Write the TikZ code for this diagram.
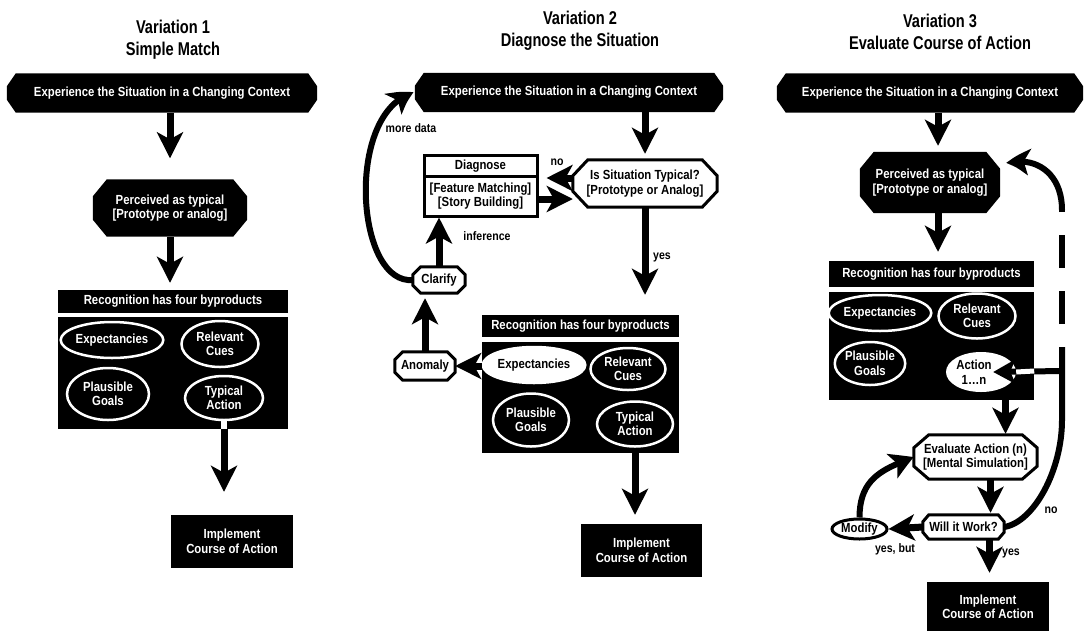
\documentclass[tikz,border=0pt]{standalone}
\usepackage{fontspec}
\setmainfont{Liberation Sans}[FakeStretch=0.86]
\newfontfamily\titlefont{Liberation Sans}[FakeStretch=0.79]
\usetikzlibrary{shapes.geometric,arrows.meta,bending,calc,backgrounds}

% octagon behind a node: style, node, chamfer x, chamfer y
\newcommand\octshape[4]{%
  \path[#1] ($(#2.north west)+(#3,0)$) -- ($(#2.north east)+(-#3,0)$)
    -- ($(#2.north east)+(0,#4)$) -- ($(#2.south east)+(0,-#4)$)
    -- ($(#2.south east)+(-#3,0)$) -- ($(#2.south west)+(#3,0)$)
    -- ($(#2.south west)+(0,-#4)$) -- ($(#2.north west)+(0,#4)$) -- cycle;}

\tikzset{
  blackbox/.style={rectangle,fill=black,text=white,inner sep=0pt,align=center},
  octbox/.style={rectangle,text=white,inner sep=0pt,align=center},
  whiteoct/.style={rectangle,inner sep=0pt,align=center},
  byprod/.style={ellipse,draw=white,line width=2.5pt,text=white,inner sep=0pt,align=center},
  flow/.style={line width=7pt,-{Stealth[length=26pt,width=26pt,inset=7pt]}},
  loopflow/.style={line width=6pt,-{Stealth[length=24pt,width=26pt,inset=6pt,bend]}},
  lbl/.style={font=\fontsize{12.3}{14}\selectfont\bfseries,inner sep=0pt},
  vtitle/.style={font=\fontsize{18.5}{22}\selectfont\titlefont\bfseries,align=center,inner sep=0pt}
}

\begin{document}
\begin{tikzpicture}[x=1pt,y=-1pt,font=\fontsize{13.2}{14.5}\selectfont\bfseries]
  \useasboundingbox (0,0) rectangle (1084,630);

  % Variation 1
  \node[vtitle] (t1) at (173,40) {Variation 1\\Simple Match};
  \node[octbox,minimum width=310pt,minimum height=39pt] (exp1) at (162,93)
    {Experience the Situation in a Changing Context};
  \node[octbox,minimum width=154pt,minimum height=57pt] (perc1) at (170,208)
    {Perceived as typical\\{[}Prototype or analog{]}};
  \node[blackbox,minimum width=230pt,minimum height=23pt] (hdr1) at (173,301.5)
    {Recognition has four byproducts};
  \node[blackbox,minimum width=230pt,minimum height=112pt] (bp1) at (173,373) {};
  \node[byprod,minimum width=101pt,minimum height=36pt] (ex1) at (112,340) {Expectancies};
  \node[byprod,minimum width=77pt,minimum height=46pt] (rc1) at (220,344) {Relevant\\Cues};
  \node[byprod,minimum width=82pt,minimum height=52pt] (pg1) at (108,394) {Plausible\\Goals};
  \node[byprod,minimum width=78pt,minimum height=44pt] (ta1) at (224,398) {Typical\\Action};
  \node[blackbox,minimum width=122pt,minimum height=53pt] (imp1) at (232,541.5)
    {Implement\\Course of Action};

  \draw[flow,shorten >=21pt] (perc1.north |- exp1.south) -- (perc1.north);
  \draw[flow,shorten >=7pt] (perc1.south) -- (perc1.south |- hdr1.north);
  \draw[flow,shorten >=23pt] (ta1.south) -- (ta1.south |- imp1.north);
  \draw[white,line width=6pt] (ta1.south) -- (ta1.south |- bp1.south);

  % Variation 2
  \node[vtitle] (t2) at (580,30.5) {Variation 2\\Diagnose the Situation};
  \node[octbox,minimum width=308pt,minimum height=39pt] (exp2) at (569,92.5)
    {Experience the Situation in a Changing Context};
  \node[whiteoct,minimum width=144pt,minimum height=47pt] (typ2) at (645,183.5)
    {Is Situation Typical?\\{[}Prototype or Analog{]}};
  \node[rectangle,draw,line width=3pt,fill=white,minimum width=113pt,minimum height=22pt,inner sep=0pt]
    (diag) at (480.5,166) {Diagnose};
  \node[rectangle,draw,line width=3pt,fill=white,minimum width=113pt,minimum height=40pt,
    inner sep=0pt,align=center] (diagb) at (480.5,196)
    {{[}Feature Matching{]}\\{[}Story Building{]}};
  \node[whiteoct,minimum width=52pt,minimum height=26pt] (clar) at (439,280) {Clarify};
  \node[whiteoct,minimum width=60pt,minimum height=28pt] (anom) at (425,366) {Anomaly};
  \node[blackbox,minimum width=197pt,minimum height=22pt] (hdr2) at (580.5,326)
    {Recognition has four byproducts};
  \node[blackbox,minimum width=197pt,minimum height=111pt] (bp2) at (580.5,397.5) {};
  \node[byprod,fill=white,text=black,minimum width=94pt,minimum height=36pt] (ex2) at (534,365) {Expectancies};
  \node[byprod,minimum width=75pt,minimum height=42pt] (rc2) at (628,369) {Relevant\\Cues};
  \node[byprod,minimum width=76pt,minimum height=53pt] (pg2) at (531,420) {Plausible\\Goals};
  \node[byprod,minimum width=76pt,minimum height=45pt] (ta2) at (635,424) {Typical\\Action};
  \node[blackbox,minimum width=121pt,minimum height=53pt] (imp2) at (641.5,550.5)
    {Implement\\Course of Action};

  \draw[flow,shorten >=6pt] (typ2.north |- exp2.south) -- (typ2.north);
  \draw[flow,shorten >=8pt] ([yshift=5.5pt]typ2.west) -- ([yshift=5.5pt]typ2.west -| diagb.east);
  \draw[flow] ([yshift=-3pt]diagb.east) -- ([yshift=-3pt]diagb.east -| typ2.west);
  \draw[flow,shorten >=20pt] (typ2.south) -- (typ2.south |- hdr2.north);
  \draw[flow] (bp2.west |- anom.east) -- (anom.east);
  \draw[flow,shorten >=5pt] (anom.north) -- (anom.north |- clar.south);
  \draw[flow] (clar.north) -- (clar.north |- diagb.south);
  \draw[flow,shorten >=9pt] (ta2.south |- bp2.south) -- (ta2.south |- imp2.north);
  \draw[loopflow,shorten >=1pt] (clar.west) .. controls +(-58,5) and +(-70,17) .. (exp2.west);

  \node[lbl] (no2) at (557,162) {no};
  \node[lbl] (yes2) at (662,257) {yes};
  \node[lbl] (inf2) at (487,236) {inference};
  \node[lbl] (more2) at (411,128) {more data};

  % Variation 3
  \node[vtitle] (t3) at (940,32) {Variation 3\\Evaluate Course of Action};
  \node[octbox,minimum width=306pt,minimum height=39pt] (exp3) at (930,93)
    {Experience the Situation in a Changing Context};
  \node[octbox,minimum width=140pt,minimum height=61pt] (perc3) at (930,182.5)
    {Perceived as typical\\{[}Prototype or analog{]}};
  \node[blackbox,minimum width=205pt,minimum height=26pt] (hdr3) at (931.5,274)
    {Recognition has four byproducts};
  \node[blackbox,minimum width=205pt,minimum height=108pt] (bp3) at (931.5,346) {};
  \node[byprod,minimum width=87pt,minimum height=36pt] (ex3) at (880,313) {Expectancies};
  \node[byprod,minimum width=77pt,minimum height=45pt] (rc3) at (977,316) {Relevant\\Cues};
  \node[byprod,minimum width=70pt,minimum height=43pt] (pg3) at (870,363.5) {Plausible\\Goals};
  \node[ellipse,fill=white,inner sep=0pt,align=center,minimum width=70pt,minimum height=40pt]
    (act3) at (981,372) {\hspace*{-14pt}Action\\\hspace*{-14pt}1…n};
  \node[whiteoct,minimum width=123pt,minimum height=44pt] (eval3) at (975.5,457)
    {Evaluate Action (n)\\{[}Mental Simulation{]}};
  \node[whiteoct,minimum width=81pt,minimum height=24pt] (will3) at (963.5,527) {Will it Work?};
  \node[ellipse,draw,line width=3pt,fill=white,inner sep=0pt,minimum width=55pt,minimum height=20pt]
    (mod3) at (859.5,529) {Modify};
  \node[blackbox,minimum width=122pt,minimum height=50pt] (imp3) at (988,607)
    {Implement\\Course of Action};

  \coordinate (nojoin) at (1062,371);
  \coordinate (dashlow) at (1062,347);
  \coordinate (dashtop) at (1062,210);

  \draw[flow,shorten >=6pt] ([xshift=8pt]perc3.north |- exp3.south) -- ([xshift=8pt]perc3.north);
  \draw[flow,shorten >=9pt] ([xshift=8pt]perc3.south) -- ([xshift=8pt]perc3.south |- hdr3.north);
  \draw[flow,shorten >=1pt] ([xshift=30pt]eval3.north |- bp3.south) -- ([xshift=30pt]eval3.north);
  \draw[flow,shorten >=2pt] ([xshift=15pt]eval3.south) -- ([xshift=15pt]eval3.south |- will3.north);
  \draw[flow] (will3.west) -- (mod3.east);
  \draw[flow,shorten >=9pt] ([xshift=26pt]will3.south) -- ([xshift=26pt]will3.south |- imp3.north);
  \draw[loopflow] (mod3.north) .. controls +(0,-40) and +(-30,12) .. (eval3.west);
  % the no loop
  \draw[line width=6pt] (will3.east) .. controls +(30,-5) and +(0,50) .. (1062,420) -- (dashlow);
  \draw[line width=6pt,dash pattern=on 33pt off 23pt,dash phase=33pt] (dashlow) -- (dashtop);
  \draw[loopflow] (dashtop) .. controls +(0,-38) and +(28,-8) .. ($(perc3.east)+(6,-19)$);
  \draw[line width=6pt,-{Stealth[length=22pt,width=24pt,inset=5pt]}] (nojoin) -- ($(act3.east)+(-23,0)$);
  \draw[white,line width=5pt] (bp3.east |- nojoin) -- (act3.east);

  \node[lbl] (no3) at (1051,510) {no};
  \node[lbl] (yes3) at (1011,553) {yes};
  \node[lbl] (ybut3) at (895,549) {yes, but};

  \begin{scope}[on background layer]
    \octshape{fill=black}{exp1}{9}{13}
    \octshape{fill=black}{exp2}{9}{13}
    \octshape{fill=black}{exp3}{9}{13}
    \octshape{fill=black}{perc1}{14}{17}
    \octshape{fill=black}{perc3}{14}{17}
    \octshape{fill=white,draw=black,line width=3pt}{typ2}{15}{16}
    \octshape{fill=white,draw=black,line width=3pt}{clar}{8}{8}
    \octshape{fill=white,draw=black,line width=3pt}{anom}{8}{8}
    \octshape{fill=white,draw=black,line width=3pt}{eval3}{15}{13}
    \octshape{fill=white,draw=black,line width=3pt}{will3}{6}{7}
  \end{scope}
\end{tikzpicture}
\end{document}
